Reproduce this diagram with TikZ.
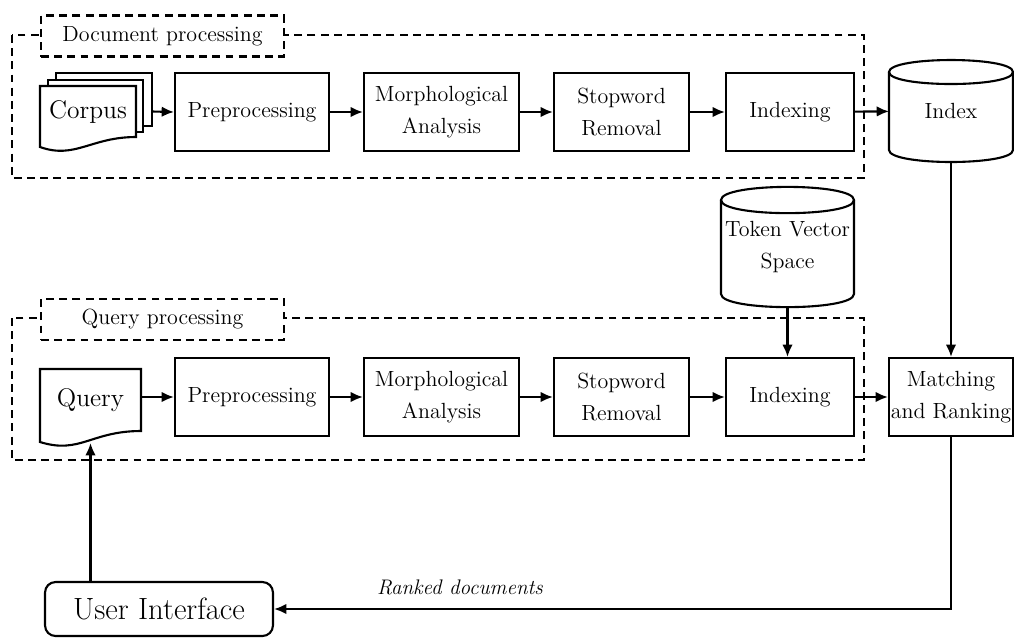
\documentclass[tikz,border=0pt]{standalone}
\usepackage{fontspec}
\usetikzlibrary{arrows.meta}

\begin{document}
\begin{tikzpicture}[x=0.02cm,y=-0.02cm,line width=1.2pt,
  every node/.style={font=\fontsize{12.5}{18}\selectfont,align=center},
  procbox/.style={draw,rectangle,minimum height=1.56cm,inner sep=0pt},
  plain/.style={rectangle,inner sep=0pt,outer sep=0pt},
  dashbox/.style={draw,dash pattern=on 4.5pt off 3pt},
  lblbox/.style={dashbox,fill=white,minimum width=4.86cm,minimum height=0.82cm},
  bigtext/.style={font=\fontsize{14.5}{17}\selectfont},
  arr/.style={-{Latex[length=7pt,width=6pt]}}]
\useasboundingbox (0,0) rectangle (1014,637);

% dashed frames
\draw[dashbox] (12,35) rectangle (864,178);
\node[lblbox] (doclbl) at (162.5,36) {Document processing};
\draw[dashbox] (12,318) rectangle (864,460);
\node[lblbox] (qlbl) at (162.5,319.5) {Query processing};

% document sheets
\filldraw[fill=white] (56,73) rectangle (152,126);
\filldraw[fill=white] (48,80) rectangle (143,132);
\filldraw[fill=white] (40,86) -- (40,147) .. controls +(0.7cm,-0.25cm) and +(-0.9cm,0cm) .. (136,137) -- (136,86) -- cycle;
\filldraw[fill=white] (40,369) -- (40,442) .. controls +(0.8cm,-0.25cm) and +(-1cm,0cm) .. (141,431) -- (141,369) -- cycle;

% document row
\node[plain,bigtext,minimum width=1.92cm,minimum height=1.02cm] (corpus) at (88,111.5) {Corpus};
\node[procbox,minimum width=3.08cm] (pre1) at (252,112) {Preprocessing};
\node[procbox,minimum width=3.1cm] (mor1) at (441.5,112) {Morphological\\Analysis};
\node[procbox,minimum width=2.7cm] (stop1) at (621.5,112) {Stopword\\Removal};
\node[procbox,minimum width=2.56cm] (idx1) at (790,112) {Indexing};
\node[plain,minimum width=2.48cm,minimum height=1.56cm] (index) at (951,111) {Index};

% query row
\node[plain,bigtext,minimum width=2.02cm,minimum height=1.24cm] (query) at (90.5,400) {Query};
\node[procbox,minimum width=3.08cm] (pre2) at (252,397) {Preprocessing};
\node[procbox,minimum width=3.1cm] (mor2) at (441.5,397) {Morphological\\Analysis};
\node[procbox,minimum width=2.7cm] (stop2) at (621.5,397) {Stopword\\Removal};
\node[procbox,minimum width=2.56cm] (idx2) at (790,397) {Indexing};
\node[procbox,minimum width=2.48cm] (match) at (951,397) {Matching\\and Ranking};
\node[plain,minimum width=2.66cm,minimum height=1.88cm] (tvs) at (787.5,247) {Token Vector\\Space};

\node[draw,rounded corners=6pt,minimum width=4.56cm,minimum height=1.08cm,font=\fontsize{17.5}{20}\selectfont] (ui) at (159,609) {User Interface};
\node[font=\fontsize{12}{14}\itshape] (rank) at (460,587) {Ranked documents};

% cylinders
\draw (index.north west) .. controls +(0,0.32cm) and +(0,0.32cm) .. (index.north east) .. controls +(0,-0.32cm) and +(0,-0.32cm) .. cycle;
\draw (index.north west) -- (index.south west) .. controls +(0,-0.32cm) and +(0,-0.32cm) .. (index.south east) -- (index.north east);
\draw (tvs.north west) .. controls +(0,0.35cm) and +(0,0.35cm) .. (tvs.north east) .. controls +(0,-0.35cm) and +(0,-0.35cm) .. cycle;
\draw (tvs.north west) -- (tvs.south west) .. controls +(0,-0.35cm) and +(0,-0.35cm) .. (tvs.south east) -- (tvs.north east);

% connectors
\draw[arr] ([xshift=0.32cm]corpus.east) -- (pre1.west);
\draw[arr] (pre1) -- (mor1);
\draw[arr] (mor1) -- (stop1);
\draw[arr] (stop1) -- (idx1);
\draw[arr] (idx1) -- (index);
\draw[arr] (pre2.west -| query.east) -- (pre2.west);
\draw[arr] (pre2) -- (mor2);
\draw[arr] (mor2) -- (stop2);
\draw[arr] (stop2) -- (idx2);
\draw[arr] (idx2) -- (match);
\draw[arr] ([yshift=-0.24cm]index.south) -- (match);
\draw[arr] ([yshift=-0.26cm]tvs.south) -- (tvs.south |- idx2.north);
\draw[arr] (match.south) |- (ui.east);
\draw[arr] (query.south |- ui.north) -- ([yshift=-0.24cm]query.south);
\end{tikzpicture}
\end{document}
